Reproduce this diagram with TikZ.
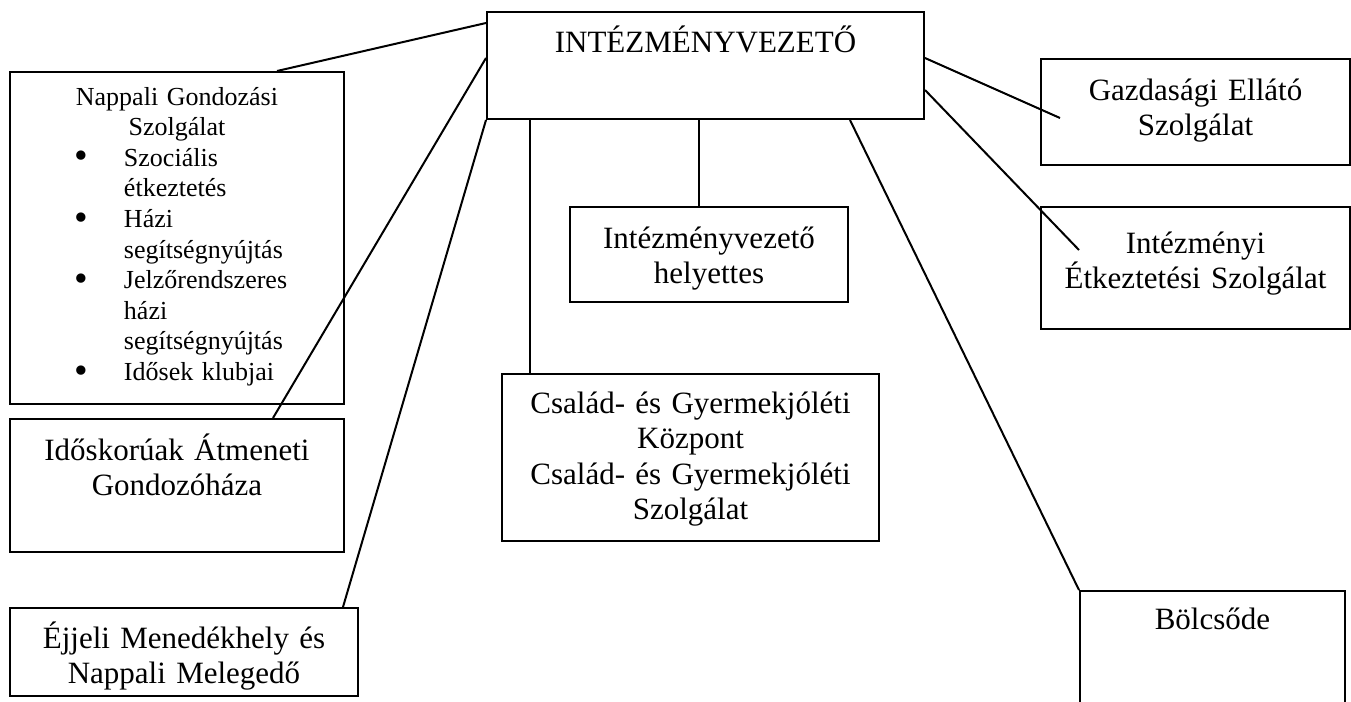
\documentclass[tikz,border=0pt]{standalone}
\usepackage{fontspec}
\setmainfont{Liberation Serif}
\newcommand{\blitem}[1]{\makebox[97.5pt][l]{\makebox[22.25pt][l]{\hspace{-2.5pt}\raisebox{-0.1em}{\scalebox{1.5}{\textbullet}}}#1}}
\newcommand{\blcont}[1]{\makebox[97.5pt][l]{\hspace{22.25pt}#1}}

\begin{document}
\begin{tikzpicture}[x=0.5pt, y=-0.5pt, line width=1pt,
    box/.style={draw, anchor=north west, inner sep=0pt, align=center,
        font=\fontsize{15.5}{17.8}\selectfont}]
    \useasboundingbox (0, 0) rectangle (1351, 702);

    \node[box, text width=218.5pt, text height=20pt, text depth=33.5pt] (head) at (486, 11) {INTÉZMÉNYVEZETŐ};
    \node[box, text width=167pt, text height=16.5pt, text depth=149.5pt, font=\fontsize{13}{15.3}\selectfont] (nappali) at (9, 71)
        {Nappali Gondozási\\ Szolgálat\\ \blitem{Szociális}\\ \blcont{étkeztetés}\\ \blitem{Házi}\\ \blcont{segítségnyújtás}\\
         \blitem{Jelzőrendszeres}\\ \blcont{házi}\\ \blcont{segítségnyújtás}\\ \blitem{Idősek klubjai}};
    \node[box, text width=167pt, text height=20.5pt, text depth=46pt] (idos) at (9, 418) {Időskorúak Átmeneti\\ Gondozóháza};
    \node[box, text width=174pt, text height=20pt, text depth=24pt] (ejjeli) at (9, 607) {Éjjeli Menedékhely és\\ Nappali Melegedő};
    \node[box, text width=139pt, text height=20.5pt, text depth=27pt] (helyettes) at (569, 206) {Intézményvezető\\ helyettes};
    \node[box, text width=188.5pt, text height=19.5pt, text depth=64pt] (csalad) at (501, 373)
        {Család- és Gyermekjóléti\\ Központ\\ Család- és Gyermekjóléti\\ Szolgálat};
    \node[box, text width=154.5pt, text height=20.5pt, text depth=32.5pt] (gazdasagi) at (1040, 58) {Gazdasági Ellátó\\ Szolgálat};
    \node[box, text width=154.5pt, text height=23pt, text depth=38pt] (etkeztetes) at (1040, 206) {Intézményi\\ Étkeztetési Szolgálat};
    \node[box, text width=132.5pt, text height=19pt, text depth=41pt] (bolcsode) at (1079, 590) {Bölcsőde};

    \draw ([yshift=-6pt]head.north west) -- ([xshift=134pt]nappali.north west);
    \draw ([yshift=-23.5pt]head.north west) -- ([xshift=132pt]idos.north west);
    \draw (head.south west) -- ([xshift=167pt]ejjeli.north west);
    \draw ([xshift=22pt]head.south west) coordinate (cs) -- (cs |- csalad.north);
    \draw ([xshift=106.5pt]head.south west) coordinate (hs) -- (hs |- helyettes.north);
    \draw ([xshift=182pt]head.south west) -- (bolcsode.north west);
    \draw ([yshift=-23.5pt]head.north east) -- ([xshift=10pt, yshift=-30pt]gazdasagi.north west);
    \draw ([yshift=-39.5pt]head.north east) -- ([xshift=19.5pt, yshift=-22pt]etkeztetes.north west);
\end{tikzpicture}
\end{document}
